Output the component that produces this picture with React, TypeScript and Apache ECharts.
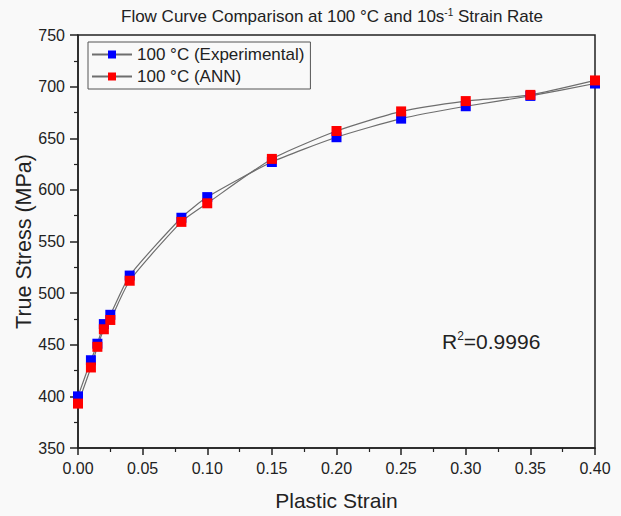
import React, { useEffect, useRef } from "react";
import * as echarts from "echarts";

const strain = [0, 0.01, 0.015, 0.02, 0.025, 0.04, 0.08, 0.1, 0.15, 0.2, 0.25, 0.3, 0.35, 0.4];
const experimental = [400, 435, 451, 470, 479, 517, 573, 593, 627, 651, 669, 681, 691, 703];
const ann = [393, 428, 448, 465, 474, 512, 569, 587, 630, 657, 676, 686, 692, 706];
const seriesNames = ["100 °C (Experimental)", "100 °C (ANN)"];

const FONT = 'Arial, "Liberation Sans", sans-serif';

export default function App() {
  const ref = useRef<HTMLDivElement>(null);
  useEffect(() => {
    if (!ref.current) return;
    const chart = echarts.init(ref.current, null, { renderer: "svg" });
    const mk = (name: string, ys: number[], color: string) => ({
      name,
      type: "line",
      data: strain.map((x, i) => [x, ys[i]]),
      smooth: 0.2,
      symbol: "rect",
      symbolSize: 10,
      showSymbol: true,
      itemStyle: { color, borderColor: color, borderWidth: 0 },
      lineStyle: { color: "#6e6e6e", width: 1.2 },
      emphasis: { disabled: true },
    });
    chart.setOption({
      animation: false,
      backgroundColor: "#f9f9f9",
      textStyle: { fontFamily: FONT },
      title: {
        text: "{a|Flow Curve Comparison at 100 °C and 10s}{s|-1}{a| Strain Rate}",
        left: 116,
        top: 2,
        textStyle: {
          fontWeight: "normal",
          rich: {
            a: { fontSize: 17, fontWeight: "normal", fontFamily: FONT, color: "#222" },
            s: { fontSize: 10, fontWeight: "normal", fontFamily: FONT, color: "#222", verticalAlign: "bottom", padding: [0, 0, 9, 0] },
          },
        },
      },
      legend: {
        orient: "vertical",
        left: 88,
        top: 42,
        padding: [4, 6, 4, 3],
        itemGap: 5,
        itemWidth: 40,
        itemHeight: 10,
        borderColor: "#555",
        borderWidth: 1,
        data: seriesNames,
        textStyle: { fontSize: 17, fontFamily: FONT, color: "#222", padding: [0, 0, 0, 0] },
      },
      grid: {
        left: 78,
        right: 26,
        top: 35,
        bottom: 67,
        show: true,
        borderColor: "#222",
        borderWidth: 1.5,
        backgroundColor: "transparent",
      },
      xAxis: {
        type: "value",
        min: 0,
        max: 0.4,
        interval: 0.05,
        name: "Plastic Strain",
        nameLocation: "middle",
        nameGap: 42,
        nameMoveOverlap: false,
        nameTextStyle: { fontSize: 21, fontFamily: FONT, color: "#222" },
        axisLine: { show: true, onZero: false, lineStyle: { color: "#222", width: 1.5 } },
        axisTick: { show: true, length: 7, lineStyle: { color: "#222", width: 1.5 } },
        minorTick: { show: true, splitNumber: 2, length: 4, lineStyle: { color: "#222", width: 1.2 } },
        splitLine: { show: false },
        axisLabel: {
          fontSize: 16,
          fontFamily: FONT,
          color: "#222",
          margin: 12,
          formatter: (v: number) => v.toFixed(2),
        },
      },
      yAxis: {
        type: "value",
        min: 350,
        max: 750,
        interval: 50,
        name: "True Stress (MPa)",
        nameLocation: "middle",
        nameGap: 43,
        nameMoveOverlap: false,
        nameTextStyle: { fontSize: 21.5, fontFamily: FONT, color: "#222" },
        axisLine: { show: true, onZero: false, lineStyle: { color: "#222", width: 1.5 } },
        axisTick: { show: true, length: 8, lineStyle: { color: "#222", width: 1.5 } },
        minorTick: { show: true, splitNumber: 2, length: 4, lineStyle: { color: "#222", width: 1.2 } },
        splitLine: { show: false },
        axisLabel: { fontSize: 16, fontFamily: FONT, color: "#222", margin: 13 },
      },
      graphic: [
        {
          type: "text",
          left: 442,
          top: 330,
          style: {
            text: "{a|R}{s|2}{a|=0.9996}",
            rich: {
              a: { fontSize: 21, fontFamily: FONT, fill: "#222" },
              s: { fontSize: 12, fontFamily: FONT, fill: "#222", verticalAlign: "bottom", padding: [0, 0, 10, 0] },
            },
          },
        },
      ],
      series: [mk(seriesNames[0], experimental, "#0000ff"), mk(seriesNames[1], ann, "#ff0000")],
    });
    return () => chart.dispose();
  }, []);
  return <div ref={ref} style={{ width: 621, height: 516, position: "absolute", left: 0, top: 0 }} />;
}
